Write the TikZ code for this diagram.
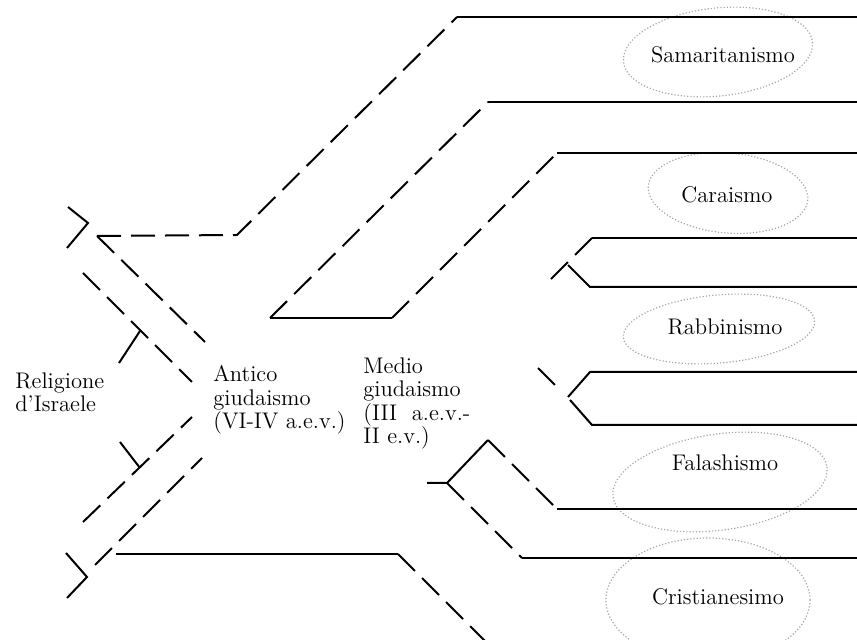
\documentclass[tikz,border=0pt]{standalone}
\usepackage{tikz}

\begin{document}
\begin{tikzpicture}[x=0.5pt,y=-0.5pt,
  wall/.style={line width=1pt},
  broken/.style={wall,dash pattern=on 12pt off 5pt},
  pencil/.style={draw=black!35,line width=0.6pt,densely dotted},
  lbl/.style={inner sep=0pt,font=\fontsize{11.3}{11.75}\selectfont,align=left}]
\useasboundingbox (0,0) rectangle (857,640);
\clip (0,0) rectangle (857,640);

\node[lbl,anchor=north west] (israele) at (15,372) {Religione\\d’Israele};
\node[lbl,anchor=north west] (antico) at (213,365) {Antico\\giudaismo\\(VI-IV a.e.v.)};
\node[lbl,anchor=north west] (medio) at (363,357) {Medio\\giudaismo\\(III\ \ a.e.v.-\\II e.v.)};
\node[lbl] (sam) at (723,55) {Samaritanismo};
\node[lbl] (car) at (727,195) {Caraismo};
\node[lbl] (rab) at (725,327) {Rabbinismo};
\node[lbl] (fal) at (725,463) {Falashismo};
\node[lbl] (cri) at (718,597) {Cristianesimo};

\draw[pencil] (718,52) circle [x radius=95,y radius=44,rotate=6];
\draw[pencil] (728,193) circle [x radius=80,y radius=40,rotate=-5];
\draw[pencil] (719,329) circle [x radius=96,y radius=34,rotate=5];
\draw[pencil] (720,482) circle [x radius=108,y radius=48,rotate=8];
\draw[pencil] (708,600) circle [x radius=102,y radius=62];

% upper left
\draw[wall] (68,207) -- (88,223) -- (67,248);
\draw[broken] (97,236) -- (237,235) -- (457,17);
\draw[wall] (457,17) -- (857,17);
\draw[broken] (97,236) -- (205,342);
\draw[broken] (83,273) -- (192,382);
\draw[wall] (140,331) -- (119,363);
% lower left
\draw[broken] (83,522) -- (192,417);
\draw[wall] (120,442) -- (140,468);
\draw[broken] (95,565) -- (202,458);
\draw[wall] (66,553) -- (87,577) -- (67,598);
\draw[wall] (116,554) -- (398,554);
\draw[broken] (398,554) -- (487,643);
% middle
\draw[broken] (270,318) -- (488,102);
\draw[wall] (488,102) -- (857,102);
\draw[wall] (270,318) -- (392,318);
\draw[broken] (392,318) -- (557,153);
\draw[wall] (557,153) -- (857,153);
% right
\draw[broken] (592,238) -- (546,284);
\draw[wall] (592,238) -- (857,238);
\draw[wall] (568,265) -- (590,287) -- (857,287);
\draw[broken] (538,368) -- (560,390);
\draw[wall] (568,397) -- (590,372) -- (857,372);
\draw[wall] (570,400) -- (592,425) -- (857,425);
% lower right
\draw[wall] (427,483) -- (447,483) -- (488,440);
\draw[broken] (488,440) -- (557,509);
\draw[wall] (557,509) -- (857,509);
\draw[broken] (447,483) -- (522,558);
\draw[wall] (522,558) -- (857,558);
\end{tikzpicture}
\end{document}
